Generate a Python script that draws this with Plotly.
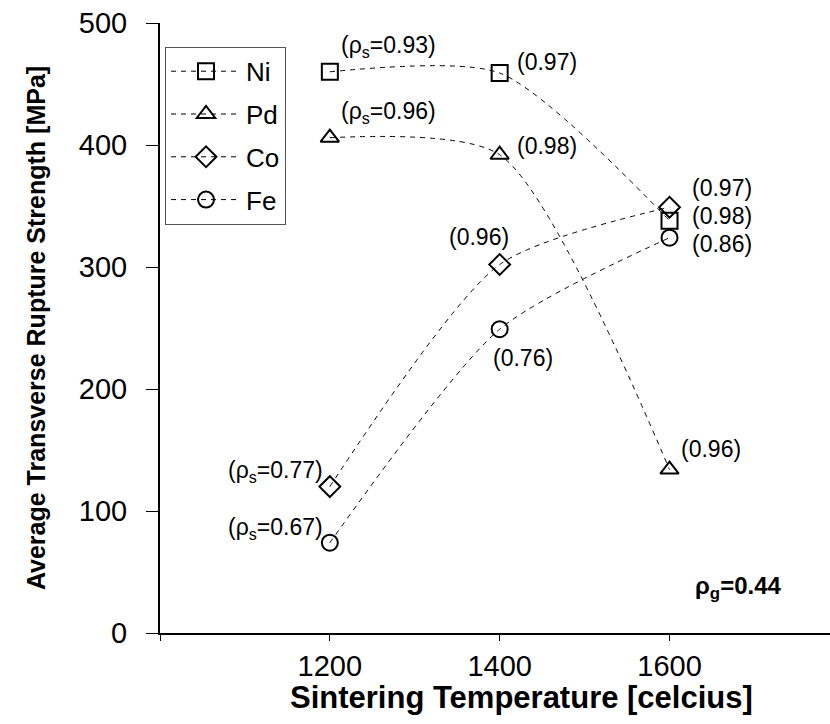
import plotly.graph_objects as go

temps = [1200, 1400, 1600]
ni = [460, 459, 338]
pd_ = [406, 392, 134]
co = [120, 302, 349]
fe = [74, 249, 324]

ni_lbl = ["(ρ<sub>s</sub>=0.93)", "(0.97)", "(0.98)"]
pd_lbl = ["(ρ<sub>s</sub>=0.96)", "(0.98)", "(0.96)"]
co_lbl = ["(ρ<sub>s</sub>=0.77)", "(0.96)", "(0.97)"]
fe_lbl = ["(ρ<sub>s</sub>=0.67)", "(0.76)", "(0.86)"]

xtick_vals = [1000, 1200, 1400, 1600, 1800]
xtick_text = ["", "1200", "1400", "1600", "1800"]
ytick_vals = [0, 100, 200, 300, 400, 500]

FONT = "Liberation Sans, Arial, sans-serif"

series = [
    ("Ni", ni, "square-open", 16, ni_lbl, [(59, 25), (47, 11), (52, 5)]),
    ("Pd", pd_, "triangle-up-open", 16, pd_lbl, [(59, 25), (47, 9), (41, 21)]),
    ("Co", co, "diamond-open", 16, co_lbl, [(-54, 15), (-21, 28), (52, 19)]),
    ("Fe", fe, "circle-open", 16, fe_lbl, [(-54, 14), (23, -29), (52, -6)]),
]

fig = go.Figure()
for name, vals, sym, sz, lbls, offs in series:
    fig.add_trace(go.Scatter(
        x=temps, y=vals, name=name, mode="lines+markers",
        line=dict(color="black", width=1, dash="5px,5px", shape="spline", smoothing=0.7),
        marker=dict(symbol=sym, size=sz, color="black", line=dict(color="black", width=2)),
        legendgroup=name,
    ))
    for xv, yv, t, (dx, dy) in zip(temps, vals, lbls, offs):
        fig.add_annotation(x=xv, y=yv, text=t, showarrow=False,
                           xshift=dx, yshift=dy, xanchor="center", yanchor="middle",
                           font=dict(size=23, color="black", family=FONT))

fig.add_annotation(xref="paper", yref="paper", x=0.863, y=0.075,
                   text="<b>ρ<sub>g</sub>=0.44</b>", showarrow=False,
                   xanchor="center", yanchor="middle",
                   font=dict(size=24, color="black", family=FONT))

# x-axis title (shifted right like the reference)
fig.add_annotation(xref="paper", yref="paper", x=0.539, y=-0.105,
                   text="<b>Sintering Temperature [celcius]</b>", showarrow=False,
                   xanchor="center", yanchor="middle",
                   font=dict(size=31, color="black", family=FONT))

fig.update_layout(
    width=830, height=724,
    margin=dict(l=160, r=0, t=23, b=91),
    paper_bgcolor="white", plot_bgcolor="white",
    font=dict(family=FONT, color="black"),
    showlegend=True,
    legend=dict(x=0.0075, y=0.961, xanchor="left", yanchor="top",
                bgcolor="white", bordercolor="#555", borderwidth=1,
                font=dict(size=26, family=FONT), tracegroupgap=6,
                traceorder="grouped", itemwidth=70),
    xaxis=dict(range=[1000, 1789], tickvals=xtick_vals, ticktext=xtick_text,
               showgrid=False, zeroline=False, showline=True, linecolor="black", linewidth=2,
               ticks="outside", ticklen=6, tickwidth=1, tickcolor="black",
               tickfont=dict(size=29, family=FONT)),
    yaxis=dict(range=[0, 500], tickvals=ytick_vals,
               showgrid=False, zeroline=False, showline=True, linecolor="black", linewidth=2,
               ticks="outside", ticklen=12, tickwidth=1, tickcolor="black",
               ticklabelstandoff=13,
               tickfont=dict(size=29, family=FONT),
               title=dict(text="<b>Average Transverse Rupture Strength [MPa]</b>", font=dict(size=25, family=FONT), standoff=26)),
)

fig.write_html("out.html")
